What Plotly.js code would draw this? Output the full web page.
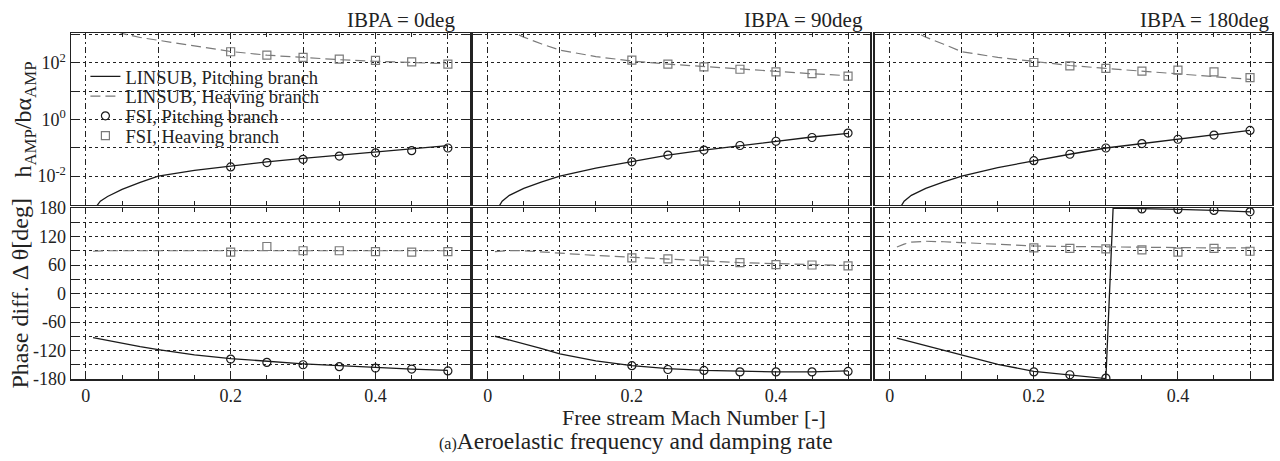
<!DOCTYPE html>
<html>
<head>
<meta charset="utf-8">
<script src="https://cdn.plot.ly/plotly-3.0.1.min.js"></script>
<style>
  html, body { margin: 0; padding: 0; background: #fff; }
  #chart { width: 1280px; height: 461px; }
</style>
</head>
<body>
<div id="chart"></div>
<script>
// Mach numbers of the LINSUB sweep and of the FSI runs
const machLin = [0.01, 0.02, 0.03, 0.05, 0.075, 0.1, 0.15, 0.2, 0.25, 0.3, 0.35, 0.4, 0.45, 0.5];
const machLinWrap = [0.01, 0.02, 0.03, 0.05, 0.075, 0.1, 0.15, 0.2, 0.25, 0.3, 0.31, 0.35, 0.4, 0.45, 0.5];
const machFsi = [0.2, 0.25, 0.3, 0.35, 0.4, 0.45, 0.5];

const ibpaLabels = ['IBPA = 0deg', 'IBPA = 90deg', 'IBPA = 180deg'];

// Amplitude ratio h_AMP / b·alpha_AMP
const ampLinPitch0   = [0.0006, 0.0013, 0.0019, 0.0034, 0.0060, 0.010, 0.016, 0.023, 0.032, 0.042, 0.054, 0.071, 0.093, 0.118];
const ampLinHeave0   = [5000, 2800, 1900, 1080, 780, 620, 380, 250, 185, 150, 128, 113, 101, 92];
const ampFsiPitch0   = [0.021, 0.030, 0.039, 0.051, 0.066, 0.079, 0.098];
const ampFsiHeave0   = [245, 187, 155, 135, 122, 108, 90];

const ampLinPitch90  = [0.0005, 0.0013, 0.0021, 0.0037, 0.0062, 0.010, 0.019, 0.032, 0.055, 0.083, 0.12, 0.17, 0.24, 0.32];
const ampLinHeave90  = [4000, 2200, 1400, 800, 460, 280, 165, 115, 90, 73, 59, 49, 41, 35];
const ampFsiPitch90  = [0.032, 0.055, 0.083, 0.12, 0.17, 0.23, 0.33];
const ampFsiHeave90  = [124, 90, 72, 59, 48, 41, 34];

const ampLinPitch180 = [0.0005, 0.0013, 0.0021, 0.0037, 0.0062, 0.010, 0.020, 0.035, 0.059, 0.098, 0.14, 0.20, 0.28, 0.41];
const ampLinHeave180 = [4000, 2200, 1450, 800, 450, 245, 155, 112, 80, 63, 51, 40, 32, 26];
const ampFsiPitch180 = [0.035, 0.059, 0.098, 0.14, 0.20, 0.28, 0.41];
const ampFsiHeave180 = [102, 78, 63, 51, 55, 48, 30];

// Phase difference [deg]
const phLinPitch0   = [-93, -96, -99, -105, -112, -118, -129, -137, -143, -148, -152, -156, -159, -162];
const phLinHeave0   = [89, 90, 90, 90, 90, 90, 90, 90, 90, 90, 90, 90, 90, 90];
const phFsiPitch0   = [-138, -145, -150, -154, -157, -159, -163];
const phFsiHeave0   = [87, 99, 90, 90, 88, 87, 88];

const phLinPitch90  = [-90, -94, -98, -105, -116, -127, -142, -152, -158, -162, -164, -165, -165, -163];
const phLinHeave90  = [88, 90, 90.5, 90, 88, 85, 80, 76, 72, 68, 65, 63, 61, 59];
const phFsiPitch90  = [-152, -160, -162, -165, -165, -165, -164];
const phFsiHeave90  = [75, 73, 68, 65, 61, 60, 58];

const phLinPitch180 = [-94, -98, -102, -110, -119, -129, -149, -164, -171, -179, 180, 178, 177, 175, 172];
const phLinHeave180 = [98, 104, 108, 110, 109, 107, 103, 100, 99, 98, 97, 97, 96, 96];
const phFsiPitch180 = [-165, -171, -178, 178, 177, 175, 172];
const phFsiHeave180 = [96, 95, 94, 92, 87, 95, 89];

// Axis tick positions and labels
const ampLabelVals = [0.01, 1, 100];
const ampLabelText = ['10<sup>-2</sup>', '10<sup>0</sup>', '10<sup>2</sup>'];
const ampOddDecades = [0.001, 0.1, 10, 1000];
const ampSubTicks = [];
[-3, -2, -1, 0, 1, 2].forEach(e => { for (let k = 2; k <= 9; k++) ampSubTicks.push(k * Math.pow(10, e)); });

const panels = [
  {amp: [ampLinPitch0, ampLinHeave0, ampFsiPitch0, ampFsiHeave0],
   ph: [phLinPitch0, phLinHeave0, phFsiPitch0, phFsiHeave0], phX: machLin},
  {amp: [ampLinPitch90, ampLinHeave90, ampFsiPitch90, ampFsiHeave90],
   ph: [phLinPitch90, phLinHeave90, phFsiPitch90, phFsiHeave90], phX: machLin},
  {amp: [ampLinPitch180, ampLinHeave180, ampFsiPitch180, ampFsiHeave180],
   ph: [phLinPitch180, phLinHeave180, phFsiPitch180, phFsiHeave180], phX: machLinWrap}
];

const names = ['LINSUB, Pitching branch', 'LINSUB, Heaving branch', 'FSI, Pitching branch', 'FSI, Heaving branch'];
const black = '#1a1a1a';
const grey = '#7a7a7a';
const serif = 'Liberation Serif';

function seriesTraces(xa, ya, xLine, ys, showLegend) {
  return [
    {x: xLine, y: ys[0], xaxis: xa, yaxis: ya, type: 'scatter', mode: 'lines', name: names[0],
     line: {color: black, width: 1.3}, showlegend: showLegend},
    {x: machLin, y: ys[1], xaxis: xa, yaxis: ya, type: 'scatter', mode: 'lines', name: names[1],
     line: {color: grey, width: 1.2, dash: '10px,5px'}, showlegend: showLegend},
    {x: machFsi, y: ys[2], xaxis: xa, yaxis: ya, type: 'scatter', mode: 'markers', name: names[2],
     marker: {symbol: 'circle-open', size: 8, color: black, line: {width: 1.2}}, showlegend: showLegend},
    {x: machFsi, y: ys[3], xaxis: xa, yaxis: ya, type: 'scatter', mode: 'markers', name: names[3],
     marker: {symbol: 'square-open', size: 8, color: grey, line: {width: 1.2}}, showlegend: showLegend}
  ];
}

const traces = [];
panels.forEach((p, i) => {
  const n = i + 1;
  traces.push(...seriesTraces('x' + (n === 1 ? '' : n), 'y' + (n === 1 ? '' : n), machLin, p.amp, i === 0));
  traces.push(...seriesTraces('x' + (n + 3), 'y' + (n + 3), p.phX, p.ph, false));
});

const xDomains = [[0, 0.3322], [0.3347, 0.6653], [0.6694, 1]];
const titleInset = [-13, -5, -1];
const topDomain = [0.5029, 1];
const botDomain = [0, 0.4942];
const ampRange = [-3.02, 3.05];

const tickFont = {family: serif, size: 18, color: '#222'};
const frame = {showline: true, mirror: 'allticks', linecolor: '#222', linewidth: 1.5, zeroline: false, fixedrange: true};

function xAxis(dom, anchor, labels) {
  return Object.assign({
    domain: dom, anchor: anchor, range: [-0.0205, 0.5305],
    tickmode: 'linear', tick0: 0, dtick: 0.1, ticklabelstep: 2,
    showticklabels: labels,
    ticks: 'inside', ticklen: 6, tickcolor: '#222', tickfont: tickFont,
    minor: {dtick: 0.05, tick0: 0, ticks: 'inside', ticklen: 4, tickcolor: '#222', showgrid: false},
    showgrid: true, gridcolor: '#222', gridwidth: 1, griddash: '6px,3px,2px,3px'
  }, frame);
}
function yAmp(dom, anchor, labels) {
  return Object.assign({
    domain: dom, anchor: anchor, type: 'log', range: ampRange,
    tickmode: 'array', tickvals: ampLabelVals, ticktext: ampLabelText,
    showticklabels: labels,
    ticks: 'inside', ticklen: 6, tickcolor: '#222', tickfont: tickFont,
    minor: {tickmode: 'array', tickvals: ampOddDecades, ticks: 'inside', ticklen: 6, tickcolor: '#222',
            showgrid: true, gridcolor: '#222', gridwidth: 1, griddash: '3px,3px'},
    showgrid: true, gridcolor: '#222', gridwidth: 1, griddash: '3px,3px'
  }, frame);
}
// fine sub-decade ticks along the frame of each amplitude panel
function yAmpSub(over, anchor) {
  return {
    overlaying: over, anchor: anchor, side: 'left', type: 'log', range: ampRange,
    tickmode: 'array', tickvals: ampSubTicks, showticklabels: false,
    ticks: 'inside', ticklen: 3, tickcolor: '#222', tickwidth: 1,
    showline: false, mirror: 'ticks', showgrid: false, zeroline: false, fixedrange: true
  };
}
function yPhase(dom, anchor, labels) {
  return Object.assign({
    domain: dom, anchor: anchor, range: [-180, 180],
    tickmode: 'linear', tick0: -180, dtick: 30, ticklabelstep: 2,
    labelalias: {'\u2212180': '-180', '\u2212120': '-120', '\u221260': '-60'},
    showticklabels: labels,
    ticks: 'inside', ticklen: 6, tickcolor: '#222', tickfont: tickFont,
    showgrid: true, gridcolor: '#222', gridwidth: 1, griddash: '3px,3px'
  }, frame);
}

const layout = {
  width: 1280, height: 461,
  margin: {l: 71, r: 8, t: 33, b: 82, pad: 0},
  paper_bgcolor: '#fff', plot_bgcolor: '#fff',
  font: {family: serif, color: '#222'},
  showlegend: true,
  legend: {
    x: 0.012, y: 0.928, xanchor: 'left', yanchor: 'top',
    bgcolor: 'rgba(0,0,0,0)', borderwidth: 0,
    font: {family: serif, size: 18.5, color: '#222'},
    traceorder: 'normal', tracegroupgap: 0
  },
  xaxis: xAxis(xDomains[0], 'y', false),
  xaxis2: xAxis(xDomains[1], 'y2', false),
  xaxis3: xAxis(xDomains[2], 'y3', false),
  xaxis4: xAxis(xDomains[0], 'y4', true),
  xaxis5: xAxis(xDomains[1], 'y5', true),
  xaxis6: xAxis(xDomains[2], 'y6', true),
  yaxis: yAmp(topDomain, 'x', true),
  yaxis2: yAmp(topDomain, 'x2', false),
  yaxis3: yAmp(topDomain, 'x3', false),
  yaxis4: yPhase(botDomain, 'x4', true),
  yaxis5: yPhase(botDomain, 'x5', false),
  yaxis6: yPhase(botDomain, 'x6', false),
  yaxis7: yAmpSub('y', 'x'),
  yaxis8: yAmpSub('y2', 'x2'),
  yaxis9: yAmpSub('y3', 'x3'),
  annotations: [
    ...ibpaLabels.map((t, i) => ({
      text: t, xref: 'paper', yref: 'paper', x: xDomains[i][1], y: 1,
      xanchor: 'right', yanchor: 'middle', xshift: titleInset[i], yshift: 13, showarrow: false,
      font: {family: serif, size: 21, color: '#222'}
    })),
    {text: 'h<sub>AMP</sub>/bα<sub>AMP</sub>', xref: 'paper', yref: 'paper', x: 0, y: 0.75,
     xanchor: 'center', yanchor: 'middle', xshift: -47, textangle: -90, showarrow: false,
     font: {family: serif, size: 24, color: '#222'}},
    {text: 'Phase diff. Δ θ[deg]', xref: 'paper', yref: 'paper', x: 0, y: 0.247,
     xanchor: 'center', yanchor: 'middle', xshift: -51, textangle: -90, showarrow: false,
     font: {family: serif, size: 24, color: '#222'}},
    {text: 'Free stream Mach Number [-]', xref: 'paper', yref: 'paper', x: 0.5, y: 0,
     xanchor: 'center', yanchor: 'middle', xshift: 22, yshift: -38, showarrow: false,
     font: {family: serif, size: 22, color: '#222'}},
    {text: '<span style="font-size:16px">(a)</span>Aeroelastic frequency and damping rate', xref: 'paper', yref: 'paper', x: 0.5, y: 0,
     xanchor: 'center', yanchor: 'middle', xshift: -36, yshift: -62, showarrow: false,
     font: {family: serif, size: 23.5, color: '#222'}}
  ]
};

// Legend rows sit closer together than Plotly's default line pitch
const legendPitch = 19.7;
function tightenLegend(gd) {
  const items = gd.querySelectorAll('.legend .traces');
  let y0 = null;
  items.forEach((g, i) => {
    const m = /translate\(\s*([-\d.]+)[ ,]+([-\d.]+)\s*\)/.exec(g.getAttribute('transform') || '');
    if (!m) return;
    const x = parseFloat(m[1]);
    const y = parseFloat(m[2]);
    if (y0 === null) y0 = y;
    g.setAttribute('transform', 'translate(' + x + ',' + (y0 + i * legendPitch) + ')');
  });
}

Plotly.newPlot('chart', traces, layout, {staticPlot: true, displayModeBar: false}).then(tightenLegend);
</script>
</body>
</html>
